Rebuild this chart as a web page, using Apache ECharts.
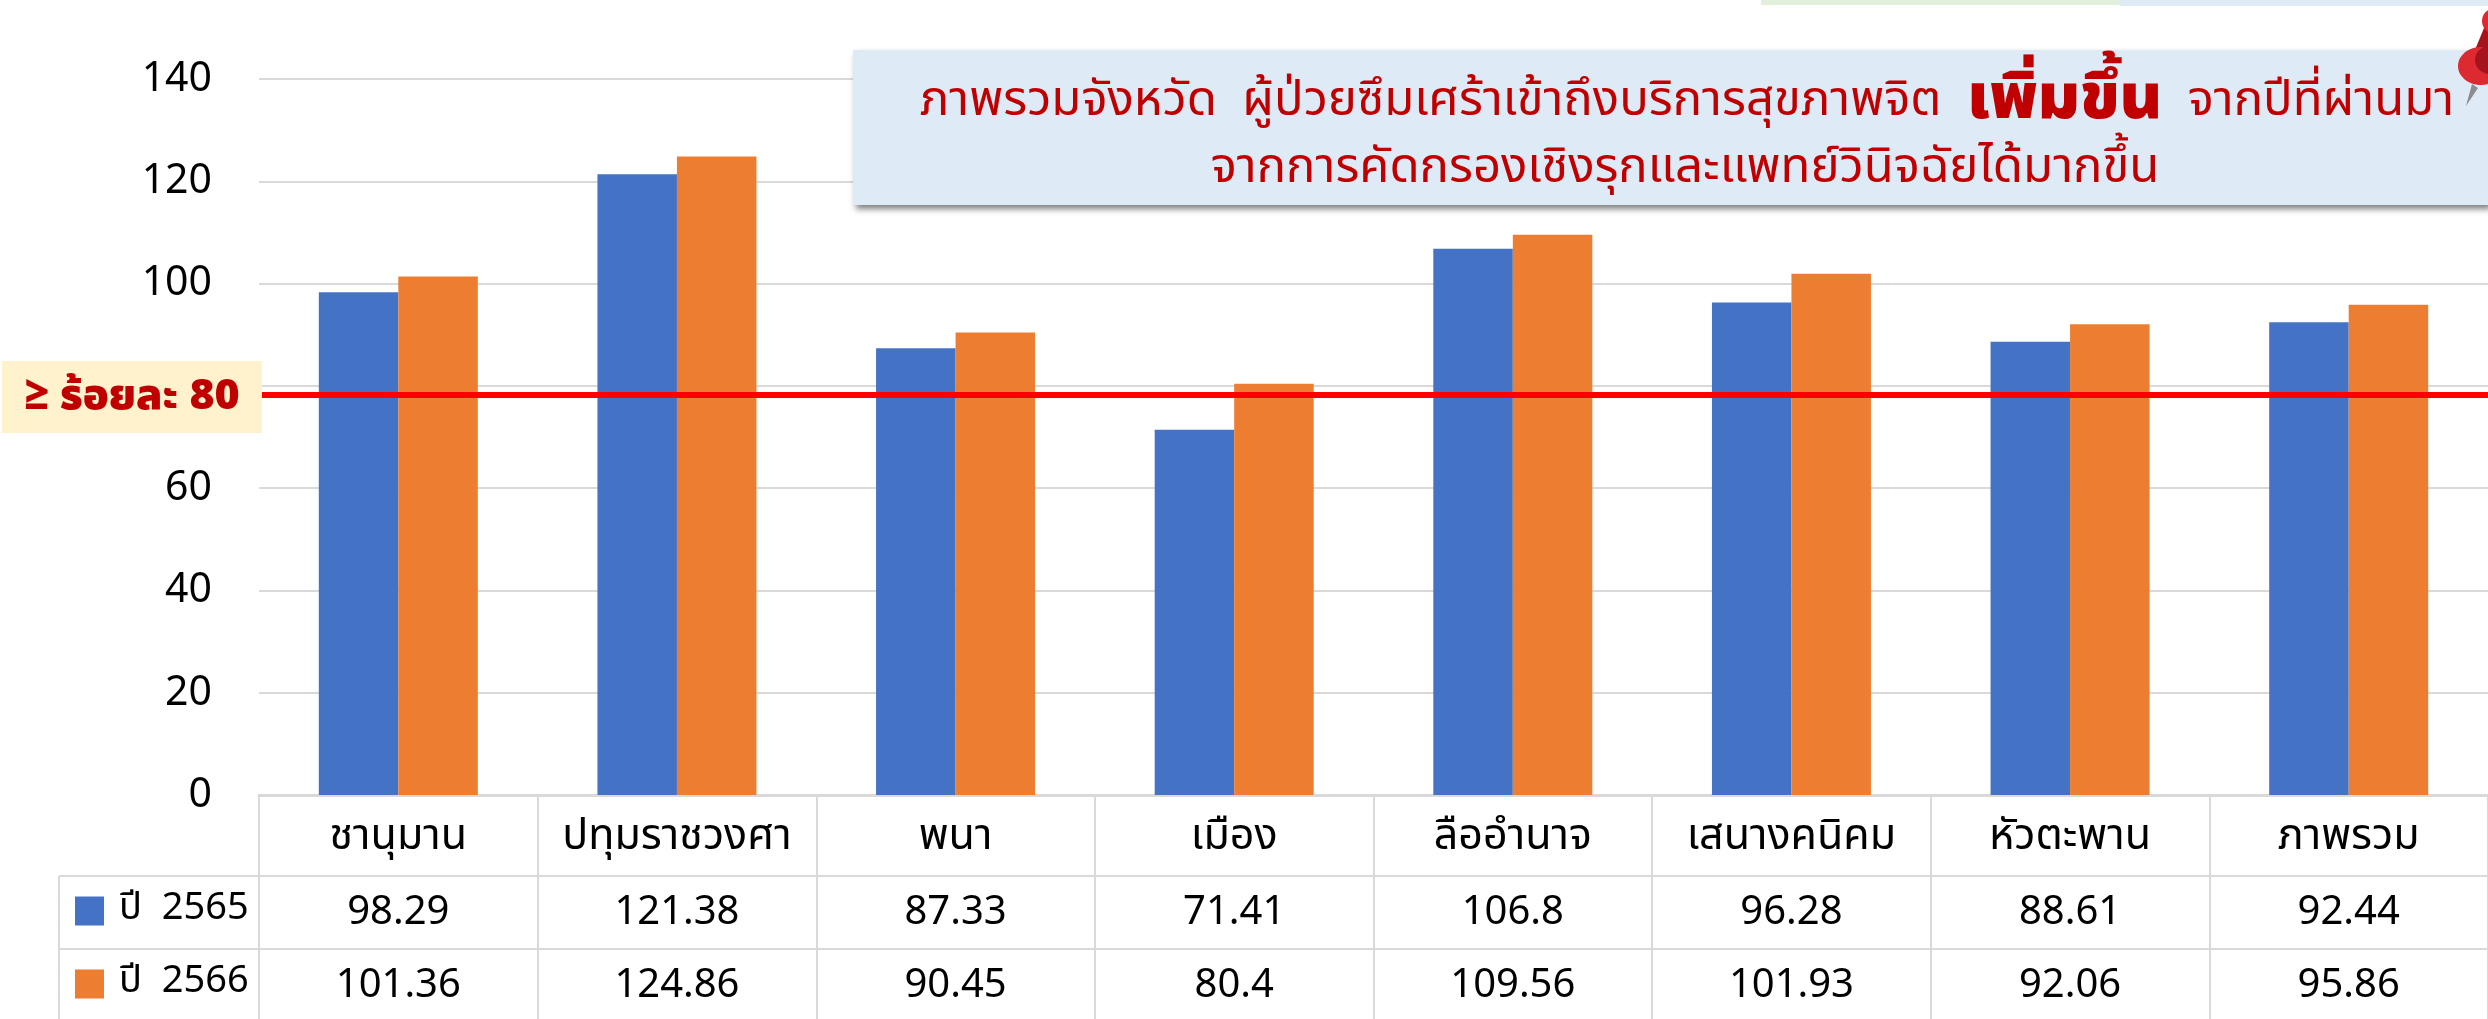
<!DOCTYPE html>
<html>
<head>
<meta charset="utf-8">
<title>chart</title>
<style>
    html, body { margin: 0; padding: 0; background: #fff; }
    #main { width: 2488px; height: 1019px; }
</style>
<script src="https://cdn.jsdelivr.net/npm/echarts@6/dist/echarts.min.js"></script>
</head>
<body>
<div id="main"></div>
<script>
    const categories = ["ชานุมาน", "ปทุมราชวงศา", "พนา", "เมือง", "ลืออำนาจ", "เสนางคนิคม", "หัวตะพาน", "ภาพรวม"]
    const values2565 = [98.29, 121.38, 87.33, 71.41, 106.8, 96.28, 88.61, 92.44]
    const values2566 = [101.36, 124.86, 90.45, 80.4, 109.56, 101.93, 92.06, 95.86]
    const yTicks = [0, 20, 40, 60, 80, 100, 120, 140]
    // the line sits a little under the 80 gridline in the original
    const targetLine = 78.2
    const targetLabel = "≥ ร้อยละ 80"
    const noteStart = "ภาพรวมจังหวัด  ผู้ป่วยซึมเศร้าเข้าถึงบริการสุขภาพจิต  "
    const noteStrong = "เพิ่มขึ้น"
    const noteEnd = "  จากปีที่ผ่านมา"
    const noteLine2 = "จากการคัดกรองเชิงรุกและแพทย์วินิจฉัยได้มากขึ้น"

    const fontThai = "'Noto Sans Thai','Noto Sans Thai Looped','Noto Sans','Open Sans',sans-serif"
    const lineColor = "#d9d9d9"

    const chart = echarts.init(document.getElementById("main"))

    const tableLine = (x1, y1, x2, y2) => ({
        type: "line",
        shape: {x1, y1, x2, y2},
        style: {stroke: lineColor, lineWidth: 2},
        z: 1
    })

    chart.setOption({
        animation: false,
        textStyle: {fontFamily: fontThai},
        grid: {left: 259, right: 0, top: 79, bottom: 224, containLabel: false},
        legend: {
            orient: "vertical",
            left: 75,
            top: 891,
            padding: 0,
            itemWidth: 29,
            itemHeight: 29,
            itemGap: 33,
            icon: "rect",
            formatter: "{t|{name}}",
            textStyle: {
                rich: {t: {fontSize: 38, color: "#000", fontFamily: fontThai, height: 40, lineHeight: 50, padding: [0, 0, 0, 10]}}
            }
        },
        xAxis: {
            type: "category",
            data: categories,
            axisLine: {lineStyle: {color: lineColor, width: 3}},
            axisTick: {show: true, length: 224, lineStyle: {color: lineColor, width: 2}},
            axisLabel: {
                interval: 0,
                margin: 6,
                formatter: (name, i) => `{c|${name}}\n{v|${values2565[i]}}\n{v|${values2566[i]}}`,
                rich: {
                    c: {fontSize: 43, lineHeight: 78, color: "#000", fontFamily: fontThai, align: "center"},
                    v: {fontSize: 40, lineHeight: 73, color: "#000", fontFamily: fontThai, align: "center"}
                }
            }
        },
        yAxis: {
            type: "value",
            min: 0,
            max: yTicks[yTicks.length - 1],
            interval: 20,
            axisLine: {show: false},
            axisTick: {show: false},
            axisLabel: {
                margin: 47,
                formatter: "{t|{value}}",
                rich: {t: {fontSize: 41, color: "#000", fontFamily: fontThai, padding: [7, 0, 0, 0]}}
            },
            splitLine: {lineStyle: {color: lineColor, width: 2}}
        },
        series: [
            {
                name: "ปี  2565",
                type: "bar",
                data: values2565,
                barWidth: 79.5,
                barGap: 0,
                itemStyle: {color: "#4472c4"}
            },
            {
                name: "ปี  2566",
                type: "bar",
                data: values2566,
                barWidth: 79.5,
                itemStyle: {color: "#ed7d31"},
                markLine: {
                    silent: true,
                    symbol: "none",
                    label: {show: false},
                    lineStyle: {color: "#ff0000", width: 6, type: "solid"},
                    data: [{yAxis: targetLine}]
                }
            }
        ],
        graphic: [
            // table rows and the left column
            tableLine(59, 876, 2488, 876),
            tableLine(59, 949, 2488, 949),
            tableLine(59, 876, 59, 1019),
            // pale strips along the top edge
            {type: "rect", shape: {x: 1761, y: 0, width: 359, height: 5}, style: {fill: "#e2efda"}},
            {type: "rect", shape: {x: 2120, y: 0, width: 368, height: 6}, style: {fill: "#deeaf6"}},
            // note box
            {
                type: "rect",
                shape: {x: 853, y: 50, width: 1635, height: 155},
                style: {fill: "#deeaf6", shadowColor: "rgba(0,0,0,0.5)", shadowBlur: 6, shadowOffsetX: 3, shadowOffsetY: 4},
                z: 10
            },
            {
                type: "text",
                x: 1687, y: 105, z: 11,
                style: {
                    text: `{n|${noteStart}}{b|${noteStrong}}{n|${noteEnd}}`,
                    align: "center", verticalAlign: "middle",
                    rich: {
                        n: {fontSize: 49, fill: "#c00000", fontFamily: fontThai},
                        b: {fontSize: 64, fontWeight: 900, fill: "#c00000", fontFamily: fontThai}
                    }
                }
            },
            {
                type: "text",
                x: 1685, y: 172, z: 11,
                style: {text: noteLine2, align: "center", verticalAlign: "middle", fontSize: 49, fill: "#c00000", fontFamily: fontThai}
            },
            // target label box
            {type: "rect", shape: {x: 2, y: 361, width: 260, height: 72}, style: {fill: "#fff2cc"}, z: 10},
            {
                type: "text",
                x: 132, y: 400, z: 11,
                style: {text: targetLabel, align: "center", verticalAlign: "middle", fontSize: 43, fontWeight: 900, fill: "#c00000", fontFamily: fontThai}
            },
            // push pin at the corner of the note
            {type: "polygon", shape: {points: [[2466, 106], [2472, 84], [2478, 88]]}, style: {fill: "#8c8c8c"}, z: 12},
            {type: "polygon", shape: {points: [[2484, 28], [2488, 28], [2488, 70], [2470, 62]]}, style: {fill: "#a5141c"}, z: 12},
            {type: "ellipse", shape: {cx: 2481, cy: 66, rx: 23, ry: 19}, style: {fill: "#dc2a30"}, z: 12},
            {type: "ellipse", shape: {cx: 2490, cy: 60, rx: 15, ry: 14}, style: {fill: "#a5141c"}, z: 13},
            {type: "ellipse", shape: {cx: 2493, cy: 21, rx: 11, ry: 12}, style: {fill: "#dc2a30"}, z: 13}
        ]
    })
</script>
</body>
</html>
